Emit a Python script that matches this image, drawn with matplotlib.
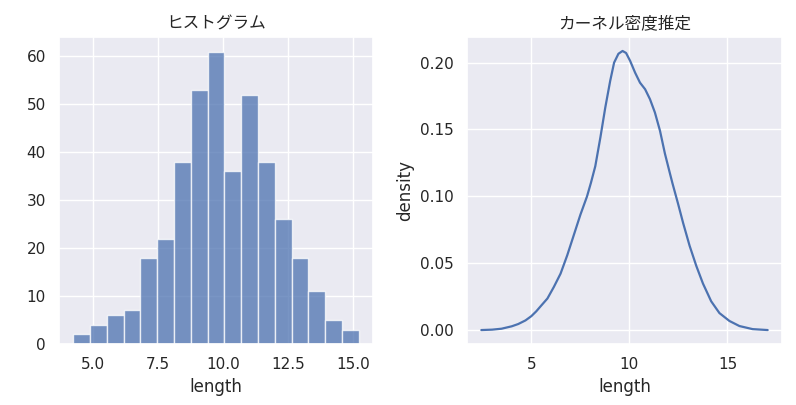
import numpy as np
import matplotlib
matplotlib.use("Agg")
import matplotlib.pyplot as plt
import seaborn as sns

# Histogram data
bin_min, bin_max = 4.25, 15.23
counts = [2, 4, 6, 7, 18, 22, 38, 53, 61, 36, 52, 38, 26, 18, 11, 5, 3]

# KDE curve
kde_x = [2.45, 3.00, 3.48, 4.00, 4.33, 4.70, 5.00, 5.25, 5.48, 5.82, 6.15, 6.49,
         6.83, 7.16, 7.50, 7.84, 8.04, 8.26, 8.52, 8.77, 9.02, 9.22, 9.44, 9.65,
         9.83, 10.04, 10.29, 10.54, 10.80, 11.05, 11.30, 11.56, 11.81, 12.06,
         12.20, 12.48, 12.74, 13.07, 13.41, 13.75, 14.17, 14.59, 15.10, 15.61,
         16.28, 17.05]
kde_y = [0.0000, 0.0003, 0.0010, 0.0028, 0.0045, 0.0072, 0.0104, 0.0140, 0.0179,
         0.0236, 0.0323, 0.0422, 0.0559, 0.0708, 0.0862, 0.1000, 0.1102, 0.1225,
         0.1440, 0.1664, 0.1863, 0.2000, 0.2066, 0.2087, 0.2072, 0.2012, 0.1925,
         0.1850, 0.1801, 0.1726, 0.1627, 0.1490, 0.1320, 0.1175, 0.1095, 0.0945,
         0.0800, 0.0630, 0.0480, 0.0348, 0.0215, 0.0127, 0.0068, 0.0030, 0.0007,
         0.0000]

titles = ["ヒストグラム", "カーネル密度推定"]
xlabel = "length"
ylabel_kde = "density"

sns.set_theme()
plt.rcParams['font.family'] = ['DejaVu Sans', 'Noto Sans CJK JP']

fig = plt.figure(figsize=(7.96, 4.05), dpi=100)
ax1 = fig.add_axes([0.0741, 0.1506, 0.3945, 0.7580])
ax2 = fig.add_axes([0.5867, 0.1506, 0.3957, 0.7580])

edges = np.linspace(bin_min, bin_max, len(counts) + 1)
widths = np.diff(edges)
ax1.bar(edges[:-1], counts, width=widths, align='edge', color='#4C72B0',
        alpha=0.75, edgecolor='white', linewidth=1.0)
ax1.set_title(titles[0], fontsize=12, family=['Noto Sans CJK JP', 'DejaVu Sans'])
ax1.set_xlabel(xlabel, fontsize=12)
ax1.set_xticks([5.0, 7.5, 10.0, 12.5, 15.0])
ax1.set_xticklabels(["5.0", "7.5", "10.0", "12.5", "15.0"])
ax1.set_yticks([0, 10, 20, 30, 40, 50, 60])
ax1.tick_params(labelsize=11)

ax2.plot(kde_x, kde_y, color='#4C72B0', linewidth=1.6,
         solid_joinstyle='round', solid_capstyle='round')
ax2.set_title(titles[1], fontsize=12, family=['Noto Sans CJK JP', 'DejaVu Sans'])
ax2.set_xlabel(xlabel, fontsize=12)
ax2.set_ylabel(ylabel_kde, fontsize=12)
ax2.set_xticks([5, 10, 15])
ax2.set_yticks([0.0, 0.05, 0.10, 0.15, 0.20])
ax2.set_yticklabels(["0.00", "0.05", "0.10", "0.15", "0.20"])
ax2.tick_params(labelsize=11)

fig.savefig("out.png", dpi=100)
